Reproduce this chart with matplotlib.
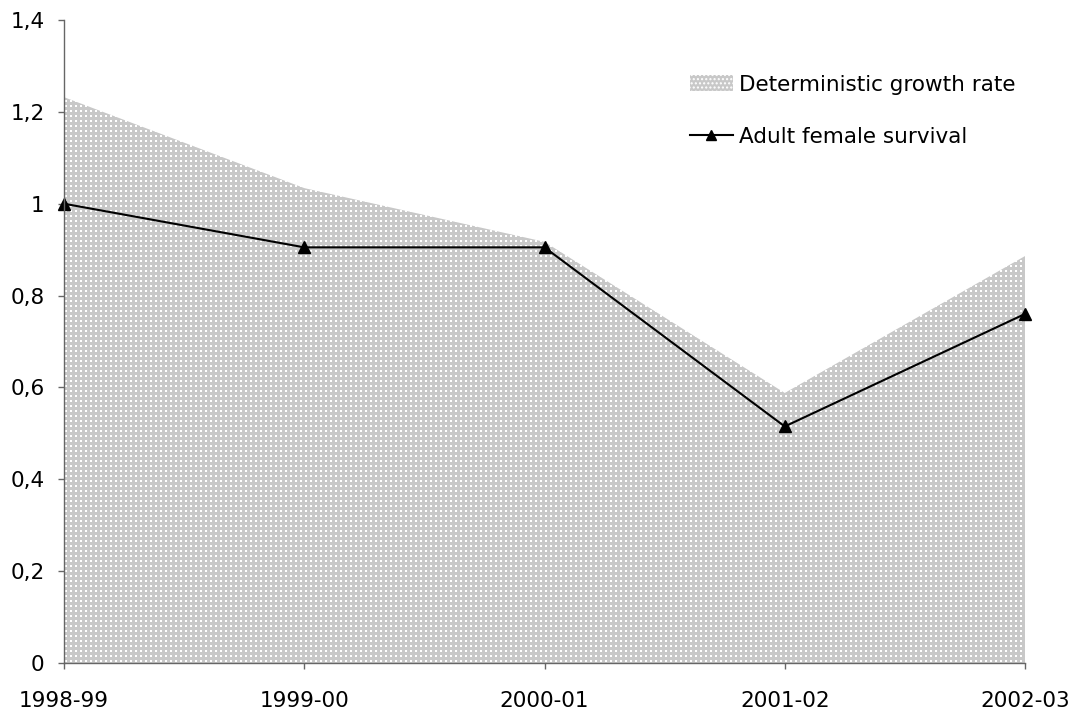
import numpy as np
import matplotlib
matplotlib.use("Agg")
import matplotlib.pyplot as plt
from matplotlib.patches import Polygon, Patch
from matplotlib.lines import Line2D

# Data
seasons = ["1998-99", "1999-00", "2000-01", "2001-02", "2002-03"]
growth_rate = [1.232, 1.034, 0.917, 0.588, 0.886]
female_survival = [1.0, 0.905, 0.905, 0.515, 0.760]
y_ticks = [0, 0.2, 0.4, 0.6, 0.8, 1.0, 1.2, 1.4]
y_tick_labels = ["0", "0,2", "0,4", "0,6", "0,8", "1", "1,2", "1,4"]

FS = 15.5
W, H, DPI = 1078, 715, 100
fig = plt.figure(figsize=(W / DPI, H / DPI), dpi=DPI)
left, right, bottom, top = 64, 1025, 663, 20
ax = fig.add_axes([left / W, (H - bottom) / H, (right - left) / W, (bottom - top) / H])
ax.set_zorder(2)
ax.patch.set_alpha(0)

x = np.arange(len(seasons))
ax.set_xlim(0, len(seasons) - 1)
ax.set_ylim(0, 1.4)

# Dotted grey texture for the area series, drawn pixel-for-pixel on the figure
tex = np.full((H, W, 3), 200, dtype=np.uint8)
yy, xx = np.mgrid[0:H, 0:W]
dots = ((xx % 5) < 2) & ((yy % 5) < 2)
tex[dots] = 255
img = fig.figimage(tex, xo=0, yo=0, origin="upper", zorder=1)
verts = [(0, 0)] + list(zip(x, growth_rate)) + [(len(seasons) - 1, 0)]
clip = Polygon(verts, closed=True, transform=ax.transData, facecolor="none", edgecolor="none")
ax.add_patch(clip)
img.set_clip_path(clip)

ax.plot(x, female_survival, color="black", lw=1.5, marker="^", markersize=8,
        zorder=3, clip_on=False)

ax.set_xticks(x)
ax.set_xticklabels(seasons)
ax.set_yticks(y_ticks)
ax.set_yticklabels(y_tick_labels)
for s in ["top", "right"]:
    ax.spines[s].set_visible(False)
for s in ["left", "bottom"]:
    ax.spines[s].set_color("#666666")
    ax.spines[s].set_linewidth(1.0)
    ax.spines[s].set_zorder(4)
ax.tick_params(axis="both", direction="out", length=4.5, width=1.0, color="#666666",
               labelsize=FS, labelcolor="black")
ax.tick_params(axis="x", pad=15.5)
ax.tick_params(axis="y", pad=9.5)

handles = [
    Patch(facecolor="#c8c8c8", edgecolor="white", hatch="....", linewidth=0),
    Line2D([0], [0], color="black", lw=1.5, marker="^", markersize=7.5),
]
labels = ["Deterministic growth rate", "Adult female survival"]
leg = fig.legend(handles, labels, loc="upper left", bbox_to_anchor=(679 / W, (H - 64) / H),
                 frameon=False, fontsize=FS, borderpad=0, labelspacing=1.5,
                 handlelength=2.0, handletextpad=0.3, handleheight=0.75)
leg.set_zorder(5)

fig.savefig("out.png", dpi=DPI)
